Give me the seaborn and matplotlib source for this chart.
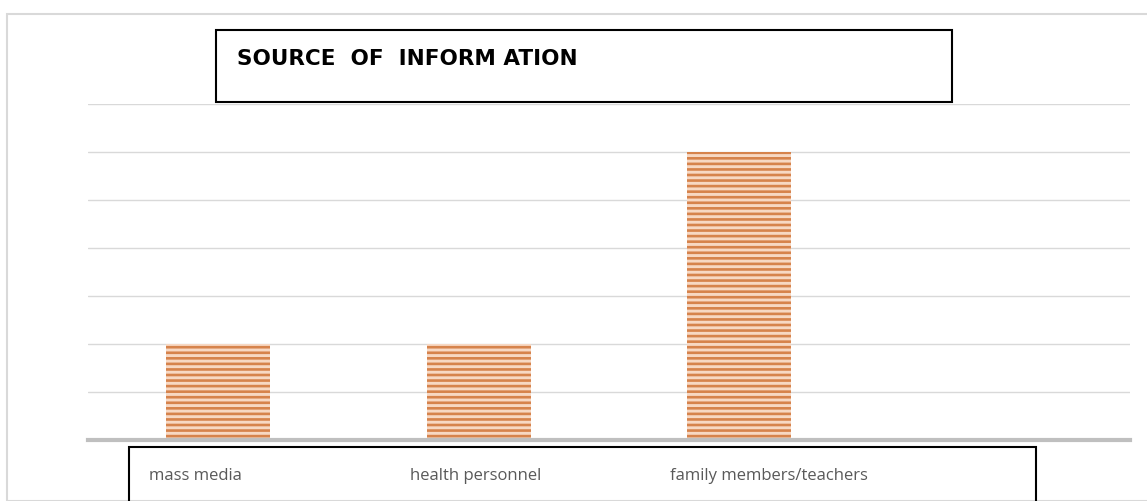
import matplotlib
matplotlib.use("Agg")
import matplotlib.pyplot as plt
import matplotlib.transforms as mtransforms
from matplotlib.patches import Rectangle
import seaborn as sns
import pandas as pd

categories = ["mass media", "health personnel", "family members/teachers"]
values = [2, 2, 6]
title_text = "SOURCE  OF  INFORM ATION"

sns.set_theme(style="white")
plt.rcParams["hatch.linewidth"] = 1.9
plt.rcParams["hatch.color"] = "#d6834c"

W, H = 1147, 501
fig = plt.figure(figsize=(W / 100, H / 100), dpi=100)
fig.patch.set_facecolor("white")

# outer chart border
fig.add_artist(Rectangle((7 / W, 0), 1.2, (H - 14) / H, transform=fig.transFigure,
                         fill=False, edgecolor="#d9d9d9", linewidth=1.5))

ax = fig.add_axes([88 / W, 61 / H, (1130 - 88) / W, (440 - 104) / H])
df = pd.DataFrame({"cat": categories, "val": values})
sns.barplot(data=df, x="cat", y="val", ax=ax, width=0.4, color="#f7d8c3",
            edgecolor="#d6834c", linewidth=0, hatch="---", saturation=1)

ax.set_xlim(-0.5, 3.5)
ax.set_ylim(0, 7)
ax.set_yticks(range(0, 8))
ax.yaxis.grid(True, color="#d9d9d9", linewidth=1)
ax.set_axisbelow(True)
ax.tick_params(axis="y", left=False, labelleft=False)
ax.tick_params(axis="x", bottom=False, pad=14)
for s in ["top", "left", "right"]:
    ax.spines[s].set_visible(False)
ax.spines["bottom"].set_color("#bfbfbf")
ax.spines["bottom"].set_linewidth(3)
ax.set_xlabel("")
ax.set_ylabel("")
ax.set_xticks(range(len(categories)))
ax.set_xticklabels(categories, fontsize=12, color="#595959", family="Open Sans", ha="left")
off = mtransforms.ScaledTranslation(-69 / 100, 0, fig.dpi_scale_trans)
for lbl in ax.get_xticklabels():
    lbl.set_transform(lbl.get_transform() + off)

# label box
fig.add_artist(Rectangle((129 / W, -0.05), (1036 - 129) / W, (H - 447) / H + 0.05,
                         transform=fig.transFigure, fill=False, edgecolor="black", linewidth=1.5))
# title box
fig.add_artist(Rectangle((216 / W, (H - 102) / H), (952 - 216) / W, 72 / H,
                         transform=fig.transFigure, facecolor="white", edgecolor="black",
                         linewidth=1.5, zorder=5))
fig.text(237 / W, (H - 59) / H, title_text, fontsize=15.5, fontweight="bold",
         family="DejaVu Sans", color="black", va="center", ha="left", zorder=6)

fig.savefig("out.png", dpi=100)
